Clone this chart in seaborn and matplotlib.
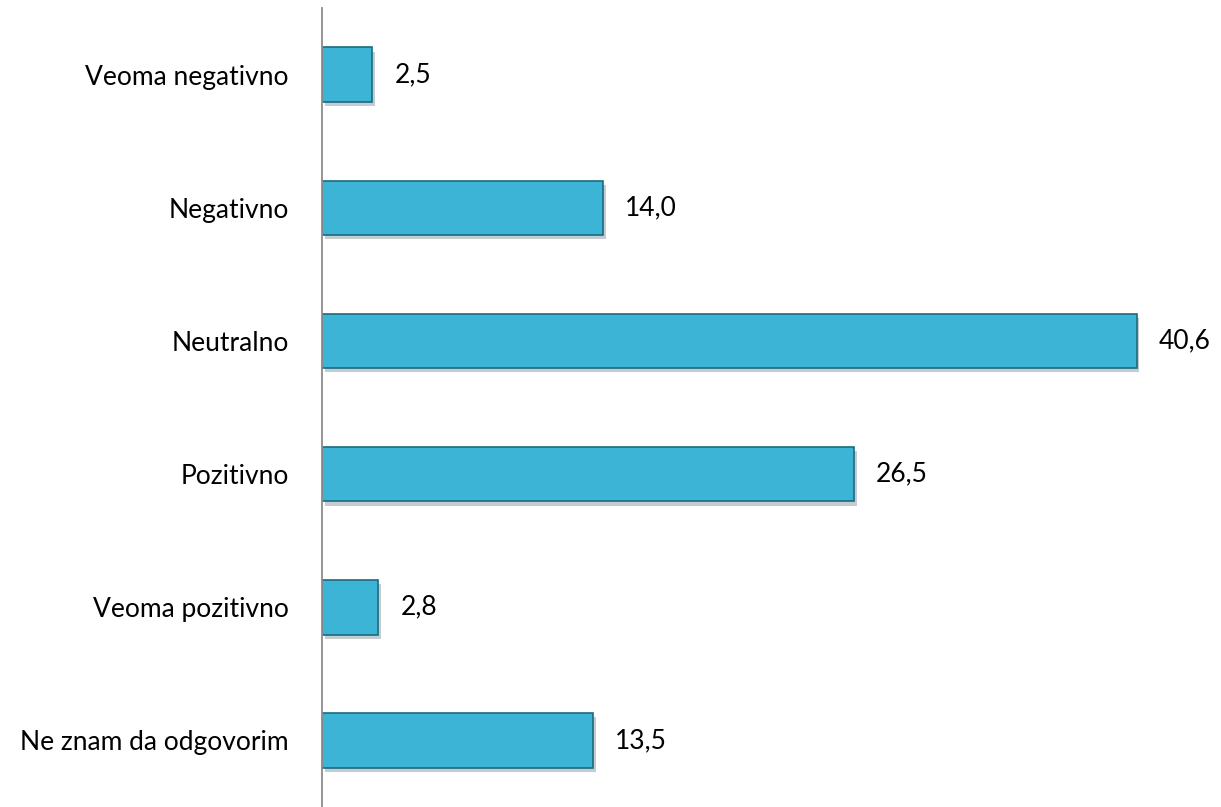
import matplotlib.patheffects as pe
import matplotlib.pyplot as plt
import pandas as pd
import seaborn as sns

categories = [
    "Veoma negativno",
    "Negativno",
    "Neutralno",
    "Pozitivno",
    "Veoma pozitivno",
    "Ne znam da odgovorim",
]
values = [2.5, 14.0, 40.6, 26.5, 2.8, 13.5]

df = pd.DataFrame({"category": categories, "value": values})

sns.set_style("white")
plt.rcParams["font.family"] = ["Lato", "DejaVu Sans"]

fig = plt.figure(figsize=(12.21, 8.07), dpi=100)
ax = fig.add_axes([0.2637, 0.0, 0.7363, 0.99])

sns.barplot(
    data=df,
    x="value",
    y="category",
    orient="h",
    color="#3cb4d6",
    saturation=1,
    width=0.41,
    edgecolor="#1d6a80",
    linewidth=1.2,
    ax=ax,
)

# soft drop shadow like the original bevelled bars
for bar in ax.patches:
    bar.set_path_effects(
        [pe.SimplePatchShadow(offset=(2, -3), alpha=0.25), pe.Normal()]
    )

# value labels with decimal comma
ax.bar_label(
    ax.containers[0],
    labels=[f"{v:.1f}".replace(".", ",") for v in values],
    padding=16,
    fontsize=19,
    color="black",
)

ax.set_xlim(0, 44.8)
ax.set_ylim(5.5, -0.5)
ax.set(xlabel="", ylabel="")
ax.set_xticks([])
ax.tick_params(axis="y", length=0, pad=24, labelsize=19, labelcolor="black")
for side in ["top", "right", "bottom"]:
    ax.spines[side].set_visible(False)
ax.spines["left"].set_color("#8c8c8c")
ax.spines["left"].set_linewidth(1.3)

plt.savefig("out.png", dpi=100)
